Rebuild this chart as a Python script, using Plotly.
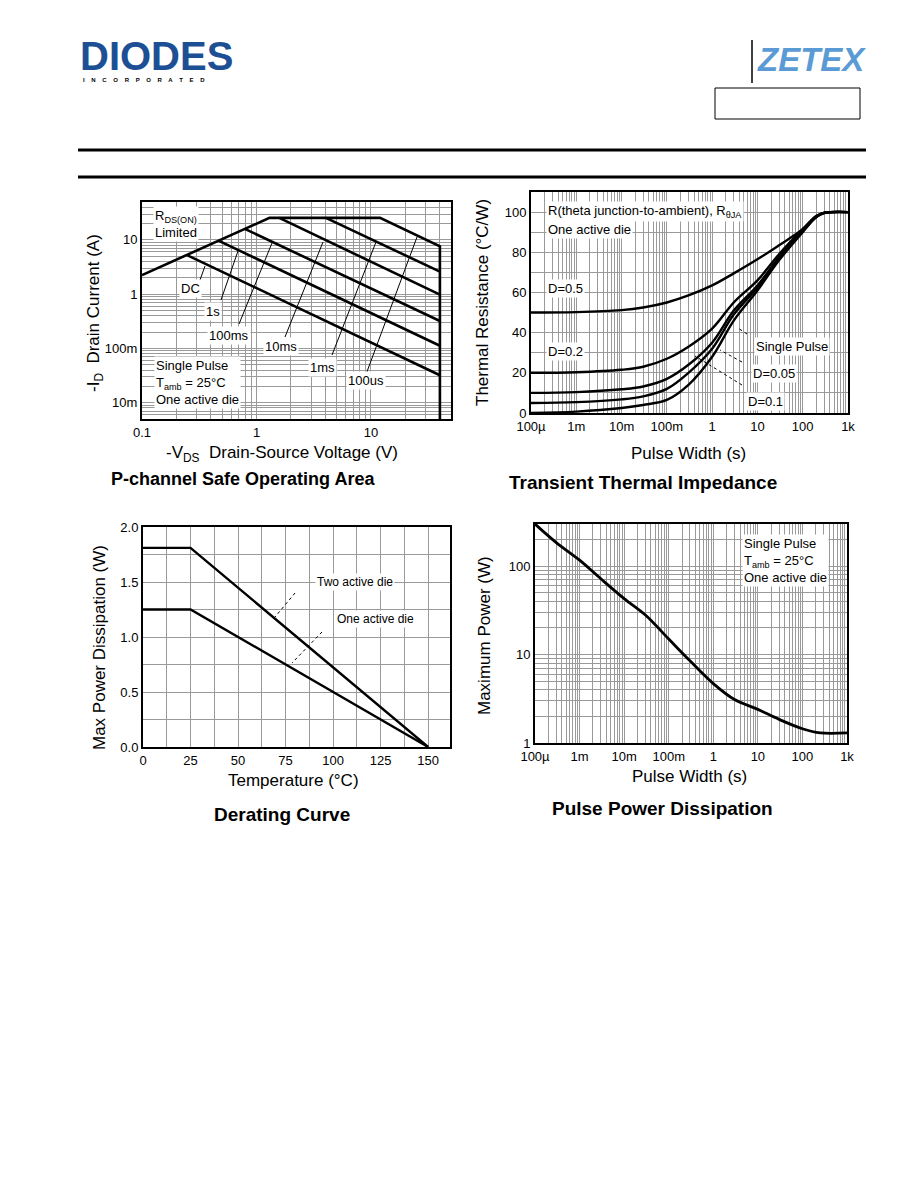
import plotly.graph_objects as go

W, H = 918, 1188
OFF = 8                      # the page body margin shifts the figure
FONT = "Liberation Sans, Arial, sans-serif"
GRID = "#9a9a9a"

# ---- P-channel safe operating area ----
soa_tick_vals = [0.01, 0.1, 1, 10]
soa_tick_text = ["10m", "100m", "1", "10"]
soa_env_v = [0.1, 1.3, 12, 40, 40]          # RDS(on) limit + 100us envelope
soa_env_i = [2.25, 25.5, 25.5, 7.6, 0.005]
soa_1ms_v = [4.04, 40]
soa_1ms_i = [25.5, 2.6]
soa_10ms_v = [1.58, 40]
soa_10ms_i = [25.5, 0.98]
soa_100ms_v = [0.79, 40]
soa_100ms_i = [16.0, 0.32]
soa_1s_v = [0.47, 40]
soa_1s_i = [9.6, 0.112]
soa_dc_v = [0.25, 40]
soa_dc_i = [5.2, 0.032]

# ---- Transient thermal impedance ----
tt_time = [1e-4, 1e-3, 1e-2, 0.03, 0.1, 0.3, 1, 3, 10, 30, 100, 200, 300, 1000]
tt_d05 = [50, 50.2, 51.2, 52.5, 55, 58.5, 63.5, 69.5, 76.5, 83.5, 91.5, 98, 99.7, 100]
tt_d02 = [20, 20.3, 21.5, 23, 27, 33, 42, 55, 66, 79, 91.5, 98, 99.7, 100]
tt_d01 = [10, 10.4, 11.8, 13.2, 17, 24, 35, 51, 63.5, 77.5, 91, 97.8, 99.6, 100]
tt_d005 = [5, 5.4, 6.8, 8.3, 12, 20, 32, 49, 62.5, 77, 90.5, 97.7, 99.6, 100]
tt_single = [0, 0.7, 2.5, 4.0, 6.5, 14, 28, 46, 61, 76, 90, 97.5, 99.5, 100]
time_tick_vals = [1e-4, 1e-3, 1e-2, 1e-1, 1, 10, 100, 1000]
time_tick_text = ["100µ", "1m", "10m", "100m", "1", "10", "100", "1k"]

# ---- Derating curve ----
der_temp = [0, 25, 150]
der_two_die = [1.81, 1.81, 0]
der_one_die = [1.25, 1.25, 0]

# ---- Pulse power dissipation ----
pp_time = [1e-4, 3e-4, 1e-3, 3e-3, 1e-2, 3e-2, 1e-1, 3e-1, 1, 3, 10, 30, 100, 250, 1000]
pp_power = [300, 185, 117, 72, 43, 28, 15, 8.5, 4.7, 3.1, 2.4, 1.85, 1.45, 1.3, 1.3]

FW, FH = W - OFF, H - OFF


def px(x):
    return (x - OFF) / FW


def py(y):
    return 1 - (y - OFF) / FH


def dom_x(a, b):
    return [px(a), px(b)]


def dom_y(top, bottom):
    return [py(bottom), py(top)]


fig = go.Figure()

line = dict(color="black", width=2.6)
soa_series = [
    (soa_env_v, soa_env_i), (soa_1ms_v, soa_1ms_i), (soa_10ms_v, soa_10ms_i),
    (soa_100ms_v, soa_100ms_i), (soa_1s_v, soa_1s_i), (soa_dc_v, soa_dc_i),
]
for v, i in soa_series:
    fig.add_trace(go.Scatter(x=v, y=i, mode="lines", line=line, xaxis="x", yaxis="y"))

for y in [tt_d05, tt_d02, tt_d01, tt_d005, tt_single]:
    fig.add_trace(go.Scatter(x=tt_time, y=y, mode="lines", line_shape="spline",
                             line=dict(color="black", width=2.4), xaxis="x2", yaxis="y2"))

for y in [der_two_die, der_one_die]:
    fig.add_trace(go.Scatter(x=der_temp, y=y, mode="lines",
                             line=dict(color="black", width=2.4), xaxis="x3", yaxis="y3"))

fig.add_trace(go.Scatter(x=pp_time, y=pp_power, mode="lines", line_shape="spline",
                         line=dict(color="black", width=2.8), xaxis="x4", yaxis="y4"))

frame = dict(showline=True, linecolor="black", linewidth=2, mirror=True, automargin=False,
             gridcolor=GRID, gridwidth=1, zeroline=False, ticks="",
             tickfont=dict(family=FONT, size=13, color="black"))
log_minor = dict(showgrid=True, gridcolor=GRID, gridwidth=1, dtick="D1", ticks="")

fig.update_layout(
    width=FW, height=FH, margin=dict(l=0, r=0, t=0, b=0, autoexpand=False),
    paper_bgcolor="white", plot_bgcolor="white", showlegend=False,
    font=dict(family=FONT, color="black"),
    xaxis=dict(frame, type="log", range=[-1, 1.699], domain=dom_x(142, 451),
               tickvals=[0.1, 1, 10], ticktext=["0.1", "1", "10"], minor=log_minor,
               anchor="y"),
    yaxis=dict(frame, type="log", range=[-2.301, 1.699], domain=dom_y(202, 419),
               tickvals=soa_tick_vals, ticktext=soa_tick_text, minor=log_minor,
               anchor="x"),
    xaxis2=dict(frame, type="log", range=[-4, 3], domain=dom_x(531, 848),
                tickvals=time_tick_vals, ticktext=time_tick_text, minor=log_minor,
                anchor="y2"),
    yaxis2=dict(frame, range=[0, 110], domain=dom_y(192, 413), dtick=20,
                minor=dict(showgrid=True, gridcolor=GRID, dtick=10), anchor="x2"),
    xaxis3=dict(frame, range=[0, 161.5], domain=dom_x(143, 450), dtick=25,
                minor=dict(showgrid=True, gridcolor=GRID, dtick=12.5), anchor="y3"),
    yaxis3=dict(frame, range=[0, 2], domain=dom_y(527, 747), dtick=0.5, tickformat=".1f",
                minor=dict(showgrid=True, gridcolor=GRID, dtick=0.25), anchor="x3"),
    xaxis4=dict(frame, type="log", range=[-4, 3], domain=dom_x(535, 847),
                tickvals=time_tick_vals, ticktext=time_tick_text, minor=log_minor,
                anchor="y4"),
    yaxis4=dict(frame, type="log", range=[0, 2.477], domain=dom_y(524, 743),
                tickvals=[1, 10, 100], ticktext=["1", "10", "100"], minor=log_minor,
                anchor="x4"),
)

shapes = []
annotations = []


def text(x, y, s, size=13, bold=False, angle=0, xanchor="center", bg=None, color="black",
         family=FONT, italic=False):
    if bold:
        s = "<b>" + s + "</b>"
    if italic:
        s = "<i>" + s + "</i>"
    annotations.append(dict(x=px(x), y=py(y), xref="paper", yref="paper", text=s,
                            showarrow=False, textangle=angle, xanchor=xanchor,
                            align="left" if xanchor == "left" else "center",
                            yanchor="middle", bgcolor=bg,
                            font=dict(family=family, size=size, color=color)))


def seg(x0, y0, x1, y1, width=1, dash="solid", color="black"):
    shapes.append(dict(type="line", xref="paper", yref="paper", x0=px(x0), y0=py(y0),
                       x1=px(x1), y1=py(y1), line=dict(color=color, width=width, dash=dash)))


# header
text(78, 56, "DIODES", size=40, bold=True, xanchor="left", color="#1c4f93")
text(81, 80, "I    N    C    O    R    P    O    R    A    T    E    D", size=6, bold=True,
     xanchor="left")
text(755, 59, "ZETEX", size=33, bold=True, italic=True, xanchor="left", color="#5b9bd5")
seg(752, 40, 752, 83, width=1.5)
shapes.append(dict(type="rect", xref="paper", yref="paper", x0=px(715), y0=py(88),
                   x1=px(860), y1=py(119), line=dict(color="black", width=1)))
seg(78, 150, 866, 150, width=3)
seg(78, 177, 866, 177, width=3)

# SOA labels
text(95, 313, "-I<sub>D</sub>  Drain Current (A)", size=17, angle=-90)
text(282, 454, "-V<sub>DS</sub>  Drain-Source Voltage (V)", size=17)
text(243, 479, "P-channel Safe Operating Area", size=18, bold=True)
text(153, 224, "R<sub>DS(ON)</sub><br>Limited", size=13, xanchor="left", bg="white")
text(154, 382, "Single Pulse<br>T<sub>amb</sub> = 25°C<br>One active die", size=13,
     xanchor="left", bg="white")
for lx, ly, s, x0, y0, x1, y1 in [
    (190, 289, "DC", 200, 280, 205, 266),
    (213, 312, "1s", 221, 300, 238, 251),
    (229, 335, "100ms", 239, 324, 272, 243),
    (281, 346, "10ms", 285, 337, 323, 242),
    (322, 367, "1ms", 332, 355, 376, 242),
    (366, 381, "100us", 365, 377, 417, 237),
]:
    seg(x0, y0, x1, y1, width=1)
    text(lx, ly, s, size=13, bg="white")

# thermal labels
text(482, 303, "Thermal Resistance (°C/W)", size=17, angle=-90)
text(688, 454, "Pulse Width (s)", size=17)
text(643, 482, "Transient Thermal Impedance", size=19, bold=True)
text(546, 212, "R(theta junction-to-ambient), R<sub>θJA</sub>", size=13, xanchor="left", bg="white")
text(546, 229, "One active die", size=13, xanchor="left", bg="white")
text(546, 289, "D=0.5", size=13, xanchor="left", bg="white")
text(546, 351, "D=0.2", size=13, xanchor="left", bg="white")
seg(747, 334, 738, 328, width=1, dash="dot")
seg(742, 362, 720, 350, width=1, dash="dot")
seg(742, 385, 695, 356, width=1, dash="dot")
text(754, 346, "Single Pulse", size=13, xanchor="left", bg="white")
text(751, 373, "D=0.05", size=13, xanchor="left", bg="white")
text(746, 401, "D=0.1", size=13, xanchor="left", bg="white")

# derating labels
text(99, 648, "Max Power Dissipation (W)", size=17, angle=-90)
text(293, 780, "Temperature (°C)", size=17)
text(282, 814, "Derating Curve", size=19, bold=True)
seg(295, 593, 275, 617, width=1, dash="dot")
seg(322, 632, 292, 663, width=1, dash="dot")
text(355, 582, "Two active die", size=12, bg="white")
text(375, 619, "One active die", size=12, bg="white")

# pulse power labels
text(484, 636, "Maximum Power (W)", size=17, angle=-90)
text(689, 776, "Pulse Width (s)", size=17)
text(662, 808, "Pulse Power Dissipation", size=19, bold=True)
text(742, 560, "Single Pulse<br>T<sub>amb</sub> = 25°C<br>One active die", size=13,
     xanchor="left", bg="white")

fig.update_layout(shapes=shapes, annotations=annotations)
fig.write_html("out.html")
